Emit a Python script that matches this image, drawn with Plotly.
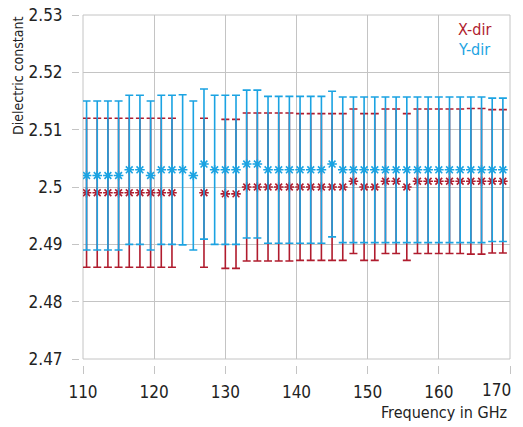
import plotly.graph_objects as go

freq = [110.5, 112, 113.5, 115, 116.5, 118, 119.5, 121, 122.5, 124,
        125.5, 127, 128.5, 130, 131.5, 133, 134.5, 136, 137.5, 139,
        140.5, 142, 143.5, 145, 146.5, 148, 149.5, 151, 152.5, 154,
        155.5, 157, 158.5, 160, 161.5, 163, 164.5, 166, 167.5, 169]

x_dir = [2.499, 2.499, 2.499, 2.499, 2.499, 2.499, 2.499, 2.499, 2.499, None,
         None, 2.499, None, 2.4988, 2.4988, 2.500, 2.500, 2.500, 2.500, 2.500,
         2.500, 2.500, 2.500, 2.500, 2.500, 2.501, 2.500, 2.500, 2.501, 2.501,
         2.500, 2.501, 2.501, 2.501, 2.501, 2.501, 2.501, 2.501, 2.501, 2.501]
x_err = [0.013, 0.013, 0.013, 0.013, 0.013, 0.013, 0.013, 0.013, 0.013, 0.013,
         0.013, 0.013, 0.013, 0.013, 0.013, 0.0129, 0.0129, 0.0129, 0.0129, 0.0129,
         0.0128, 0.0128, 0.0128, 0.0128, 0.0128, 0.0126, 0.0128, 0.0128, 0.0126, 0.0126,
         0.0128, 0.0126, 0.0126, 0.0126, 0.0126, 0.0126, 0.0127, 0.0127, 0.0125, 0.0125]

y_dir = [2.502, 2.502, 2.502, 2.502, 2.503, 2.503, 2.502, 2.503, 2.503, 2.503,
         2.502, 2.504, 2.503, 2.503, 2.503, 2.504, 2.504, 2.503, 2.503, 2.503,
         2.503, 2.503, 2.503, 2.504, 2.503, 2.503, 2.503, 2.503, 2.503, 2.503,
         2.503, 2.503, 2.503, 2.503, 2.503, 2.503, 2.503, 2.503, 2.503, 2.503]
y_err = [0.013, 0.013, 0.013, 0.013, 0.013, 0.013, 0.013, 0.013, 0.013, 0.0131,
         0.013, 0.0131, 0.013, 0.013, 0.013, 0.0129, 0.0129, 0.0128, 0.0128, 0.0128,
         0.0128, 0.0128, 0.0128, 0.0127, 0.0127, 0.0127, 0.0127, 0.0127, 0.0127, 0.0127,
         0.0127, 0.0127, 0.0127, 0.0127, 0.0127, 0.0127, 0.0127, 0.0127, 0.0125, 0.0125]

x_ticks = [110, 120, 130, 140, 150, 160, 170]
x_ticklabels = ["110", "120", "130", "140", "150", "160", "170"]
y_ticks = [2.47, 2.48, 2.49, 2.5, 2.51, 2.52, 2.53]
y_ticklabels = ["2.47", "2.48", "2.49", "2.5", "2.51", "2.52", "2.53"]

RED = "#b01c2e"
BLUE = "#1ba3e2"
GRID = "#c4c4c4"
TXT = "#222222"
FONT = "Liberation Sans Narrow, DejaVu Sans Condensed, Arial Narrow, sans-serif"

W, H = 523, 427
L, R, T, B = 79, 13, 15, 62
PW, PH = W - L - R, H - T - B


def px(xr):
    return (xr - L) / PW


def py(yr):
    return (H - B - yr) / PH


fig = go.Figure()
fig.add_trace(go.Scatter(
    x=freq, y=x_dir, mode="markers", name="X-dir",
    marker=dict(symbol="asterisk-open", size=8, color=RED, line=dict(color=RED, width=1.6)),
    error_y=dict(type="data", array=x_err, color=RED, thickness=1.6, width=4),
))
fig.add_trace(go.Scatter(
    x=freq, y=y_dir, mode="markers", name="Y-dir",
    marker=dict(symbol="asterisk-open", size=8, color=BLUE, line=dict(color=BLUE, width=1.6)),
    error_y=dict(type="data", array=y_err, color=BLUE, thickness=1.6, width=4),
))

# the last x label sits pulled in from the right edge, as in the reference
shown_x_labels = x_ticklabels[:-1] + [""]

fig.update_layout(
    width=W, height=H,
    margin=dict(l=L, r=R, t=T, b=B, autoexpand=False),
    paper_bgcolor="white", plot_bgcolor="white",
    showlegend=False, hovermode=False,
    font=dict(family=FONT, size=17, color=TXT),
    xaxis=dict(range=[110, 170], domain=[4 / PW, 1], anchor="free", position=0,
               tickvals=x_ticks, ticktext=shown_x_labels,
               showgrid=True, gridcolor=GRID, gridwidth=1,
               ticks="outside", ticklen=8, tickcolor=GRID, tickwidth=1,
               showline=False, zeroline=False, ticklabelstandoff=4,
               automargin=False),
    yaxis=dict(range=[2.47, 2.53], domain=[6 / PH, 1], anchor="free", position=0,
               tickvals=y_ticks, ticktext=y_ticklabels,
               showgrid=True, gridcolor=GRID, gridwidth=1,
               ticks="outside", ticklen=7, tickcolor=GRID, tickwidth=1,
               showline=False, zeroline=False, ticklabelstandoff=6,
               automargin=False),
    shapes=[dict(type="rect", xref="x domain", yref="y domain", x0=0, x1=1, y0=0, y1=1,
                 line=dict(color=GRID, width=1), layer="below")],
    annotations=[
        dict(text=x_ticklabels[-1], xref="paper", yref="paper",
             x=px(513), y=py(390), xanchor="right", yanchor="middle",
             showarrow=False, font=dict(size=17, color=TXT)),
        dict(text="Dielectric constant", textangle=-90, xref="paper", yref="paper",
             x=px(18), y=py(15), xanchor="center", yanchor="top", showarrow=False,
             font=dict(size=14, color=TXT)),
        dict(text="Frequency in GHz", xref="paper", yref="paper",
             x=px(509), y=py(412), xanchor="right", yanchor="middle",
             showarrow=False, font=dict(size=16, color=TXT)),
        dict(text="X-dir", xref="paper", yref="paper", x=px(456), y=py(30),
             xanchor="left", yanchor="middle", showarrow=False,
             font=dict(size=16, color=RED)),
        dict(text="Y-dir", xref="paper", yref="paper", x=px(456), y=py(50),
             xanchor="left", yanchor="middle", showarrow=False,
             font=dict(size=16, color=BLUE)),
    ],
)

fig.write_html("out.html", config={"displayModeBar": False},
               post_script="document.body.style.margin='0px';")
